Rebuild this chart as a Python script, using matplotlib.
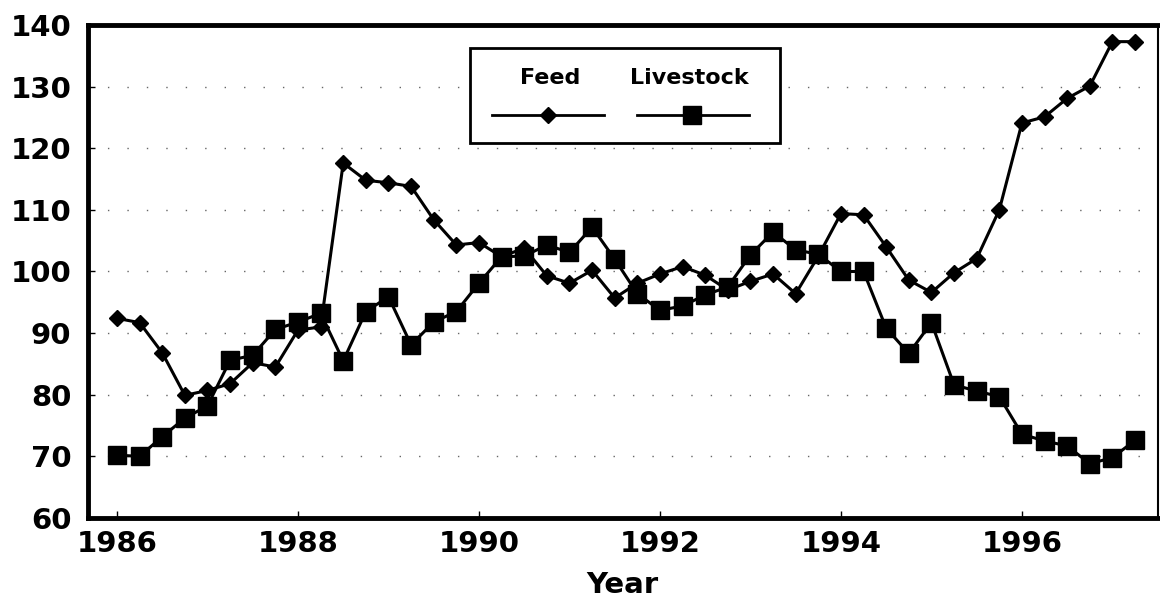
import matplotlib
matplotlib.use('Agg')
import matplotlib.pyplot as plt
from matplotlib.patches import Rectangle
from matplotlib.lines import Line2D
import numpy as np

plt.rcParams['font.family'] = ['DejaVu Sans']

# quarterly values, 1986 Q1 .. 1997 Q2
start_year = 1986
feed = [92.4, 91.7, 86.8, 79.9,
        80.7, 81.8, 85.2, 84.5,
        90.5, 91.0, 117.6, 114.8,
        114.4, 113.8, 108.4, 104.3,
        104.7, 102.4, 103.8, 99.3,
        98.1, 100.2, 95.7, 98.1,
        99.6, 100.8, 99.4, 97.0,
        98.4, 99.6, 96.4, 102.5,
        109.4, 109.2, 104.0, 98.6,
        96.6, 99.8, 102.1, 110.0,
        124.1, 125.1, 128.1, 130.1,
        137.3, 137.3]
livestock = [70.2, 70.0, 73.2, 76.2,
             78.2, 85.6, 86.4, 90.6,
             91.8, 93.2, 85.5, 93.5,
             95.9, 88.1, 91.8, 93.5,
             98.1, 102.4, 102.5, 104.3,
             103.1, 107.2, 102.0, 96.4,
             93.7, 94.4, 96.2, 97.5,
             102.7, 106.4, 103.5, 102.8,
             100.0, 100.0, 90.8, 86.7,
             91.7, 81.6, 80.6, 79.7,
             73.6, 72.5, 71.7, 68.8,
             69.8, 72.6]
years = start_year + np.arange(len(feed)) * 0.25
xticks = [1986, 1988, 1990, 1992, 1994, 1996]
yticks = list(range(60, 141, 10))

fig = plt.figure(figsize=(11.6, 6.04), dpi=100)
ax = fig.add_axes([0.0759, 0.1424, 0.9221, 0.8162])

ax.plot(years, livestock, color='black', lw=2.2, marker='s', ms=13, zorder=3)
ax.plot(years, feed, color='black', lw=2.2, marker='D', ms=8, zorder=4)

ax.set_xlim(1985.68, 1997.5)
ax.set_ylim(60, 140)
ax.set_xticks(xticks)
ax.set_yticks(yticks)
ax.yaxis.grid(True, color='#666666', lw=1, linestyle=(0, (1, 13)))
ax.set_axisbelow(True)

for side in ['left', 'bottom', 'top']:
    ax.spines[side].set_linewidth(3.5)
ax.spines['right'].set_linewidth(1.5)

ax.tick_params(direction='in', length=5, width=1, labelsize=21)
ax.tick_params(axis='x', pad=9)
ax.tick_params(axis='y', pad=12)
for lab in ax.get_xticklabels() + ax.get_yticklabels():
    lab.set_fontweight('bold')
ax.set_xlabel('Year', fontsize=21, fontweight='bold', labelpad=9)

# legend box: labels above their sample lines
ax.add_patch(Rectangle((0.357, 0.761), 0.29, 0.192, transform=ax.transAxes,
                       facecolor='white', edgecolor='black', lw=2, zorder=5))
ax.text(0.432, 0.893, 'Feed', transform=ax.transAxes, ha='center', va='center',
        fontsize=16, fontweight='bold', zorder=6)
ax.text(0.562, 0.893, 'Livestock', transform=ax.transAxes, ha='center', va='center',
        fontsize=16, fontweight='bold', zorder=6)
ax.add_line(Line2D([0.378, 0.482], [0.817, 0.817], transform=ax.transAxes,
                   color='black', lw=2, zorder=6))
ax.add_line(Line2D([0.43], [0.817], transform=ax.transAxes, color='black',
                   marker='D', ms=8, zorder=7))
ax.add_line(Line2D([0.513, 0.618], [0.817, 0.817], transform=ax.transAxes,
                   color='black', lw=2, zorder=6))
ax.add_line(Line2D([0.565], [0.817], transform=ax.transAxes, color='black',
                   marker='s', ms=13, zorder=7))

fig.savefig('out.png', dpi=100, facecolor='white')
